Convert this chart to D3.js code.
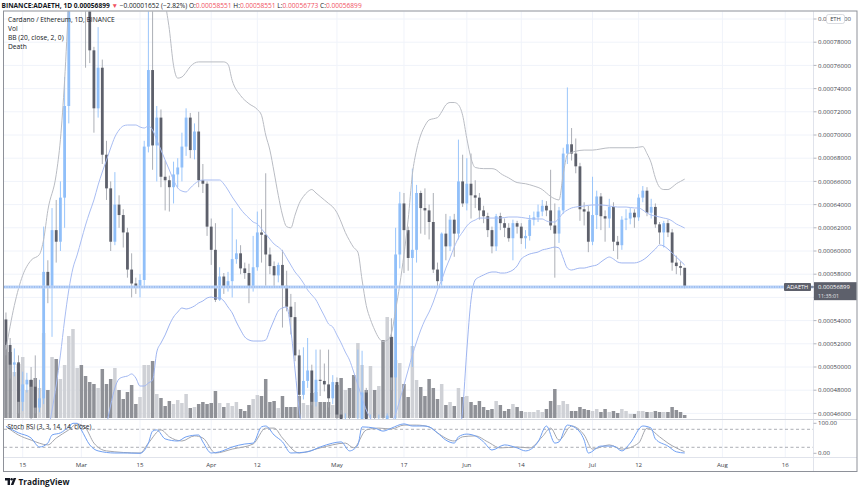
<!DOCTYPE html>
<html>
<head>
<meta charset="utf-8">
<script src="https://cdn.jsdelivr.net/npm/d3@7"></script>
<style>
  html, body { margin: 0; padding: 0; background: #fff; }
  svg { display: block; font-family: "Open Sans", sans-serif; }
</style>
</head>
<body>
<svg id="canvas" width="860" height="492"></svg>
<script>
// prices are in units of 0.00001 ETH, one candle per day from 2021-02-11
const firstDay = Date.UTC(2021, 1, 11);

const opens = [
  54.1, 51.9, 50.2, 50.4, 47.0, 48.5, 48.9, 48.3, 46.5, 47.3,
  58.2, 56.9, 61.8, 60.8, 64.6, 72.5, 86.0, 92.0, 93.0, 88.0,
  82.0, 77.3, 72.3, 75.8, 68.3, 65.4, 60.8, 64.0, 63.1, 61.6,
  58.4, 57.2, 56.9, 57.5, 69.0, 75.6, 69.1, 71.5, 66.4, 66.1,
  65.5, 66.6, 67.2, 69.0, 71.5, 68.7, 70.3, 66.1, 65.8, 62.1,
  60.1, 55.8, 57.8, 56.9, 57.4, 59.3, 59.8, 58.5, 58.1, 56.9,
  58.6, 61.6, 61.4, 59.7, 58.7, 57.9, 58.8, 57.0, 55.2, 54.3,
  51.0, 47.6, 48.8, 49.7, 47.0, 48.9, 48.8, 48.5, 47.3, 48.7,
  45.9, 44.8, 45.5, 44.6, 43.8, 45.2, 47.8, 44.9, 45.4, 44.6,
  45.3, 44.9, 52.6, 49.1, 59.7, 64.1, 61.8, 59.4, 60.1, 65.0,
  63.7, 63.5, 62.5, 58.4, 57.4, 61.5, 60.4, 62.7, 61.5, 66.0,
  64.1, 65.8, 64.8, 64.6, 63.5, 63.0, 61.8, 60.4, 63.0, 62.4,
  62.0, 61.1, 62.4, 62.1, 61.1, 61.3, 62.7, 62.9, 63.4, 63.9,
  63.5, 62.2, 61.5, 63.5, 68.4, 69.2, 68.4, 67.3, 63.6, 63.4,
  60.8, 63.1, 64.7, 63.0, 62.8, 63.8, 60.8, 60.5, 62.7, 62.8,
  63.3, 62.9, 64.6, 65.2, 63.3, 63.8, 62.3, 61.6, 62.4, 61.6,
  59.0, 58.7, 58.551
];
const highs = [
  54.7, 52.5, 51.6, 51.0, 49.6, 49.5, 50.0, 51.0, 48.9, 62.1,
  59.2, 63.7, 64.4, 66.0, 75.0, 90.0, 95.0, 97.0, 95.0, 90.0,
  84.0, 77.6, 79.3, 76.5, 69.5, 66.0, 66.8, 64.8, 63.6, 62.0,
  59.8, 57.7, 58.0, 69.5, 82.0, 82.0, 72.5, 72.2, 67.8, 66.5,
  67.7, 68.0, 70.2, 72.3, 71.9, 71.0, 72.0, 67.5, 66.0, 62.8,
  62.4, 58.6, 58.1, 58.2, 63.7, 61.0, 60.5, 59.0, 58.9, 61.3,
  63.4, 63.6, 66.7, 60.3, 59.1, 59.0, 60.1, 58.3, 56.3, 55.6,
  51.5, 51.7, 52.5, 50.2, 51.5, 51.5, 50.3, 51.5, 49.3, 49.1,
  46.3, 46.0, 45.8, 45.3, 51.5, 51.4, 48.2, 45.9, 45.8, 45.9,
  45.7, 46.0, 54.2, 62.0, 65.1, 65.0, 62.1, 67.1, 65.7, 65.2,
  65.4, 64.0, 65.0, 59.0, 61.6, 63.2, 63.0, 63.2, 69.6, 68.3,
  68.0, 68.4, 66.1, 65.0, 63.9, 63.3, 62.1, 63.2, 63.3, 62.8,
  62.4, 62.7, 62.6, 62.4, 61.8, 63.1, 63.4, 64.0, 64.4, 64.3,
  67.0, 64.1, 63.8, 68.9, 74.1, 70.6, 69.7, 67.6, 64.2, 63.9,
  66.4, 65.2, 65.0, 63.5, 64.5, 64.2, 61.3, 63.0, 63.6, 63.7,
  63.6, 64.9, 65.6, 65.5, 64.5, 64.1, 62.5, 62.6, 62.7, 61.9,
  59.6, 59.1, 58.551
];
const lows = [
  51.0, 49.0, 49.2, 46.0, 46.2, 47.8, 45.5, 46.0, 46.1, 46.8,
  55.5, 52.6, 59.0, 60.0, 62.0, 71.0, 84.0, 89.0, 86.0, 75.8,
  76.2, 70.2, 71.5, 67.5, 64.4, 60.0, 60.5, 62.0, 60.3, 57.7,
  56.0, 56.3, 56.0, 57.0, 68.5, 67.0, 66.0, 65.5, 63.5, 63.4,
  64.1, 65.5, 66.0, 68.2, 68.0, 67.9, 65.5, 65.0, 61.3, 58.8,
  55.6, 55.7, 56.3, 56.5, 56.0, 58.9, 58.0, 57.6, 55.5, 56.5,
  58.3, 59.0, 57.0, 58.0, 56.9, 57.3, 53.4, 54.8, 52.8, 50.5,
  46.6, 47.2, 48.2, 46.7, 46.6, 47.5, 47.9, 46.5, 46.8, 45.3,
  44.0, 44.2, 43.9, 43.2, 43.5, 44.8, 44.2, 44.4, 44.0, 44.2,
  44.2, 44.5, 48.0, 44.5, 58.5, 58.1, 58.3, 50.0, 59.0, 61.5,
  61.4, 61.0, 58.1, 56.8, 57.0, 59.2, 60.0, 59.5, 61.0, 63.8,
  63.5, 62.8, 63.7, 62.7, 62.4, 61.2, 59.8, 60.0, 61.8, 61.2,
  60.8, 59.2, 61.5, 60.6, 60.2, 60.9, 62.2, 62.5, 63.0, 63.0,
  61.8, 57.7, 60.7, 63.2, 67.5, 67.8, 66.7, 62.6, 62.2, 59.9,
  60.5, 61.9, 61.8, 60.8, 62.0, 60.0, 59.3, 60.1, 61.8, 62.3,
  62.0, 62.6, 64.2, 63.0, 62.8, 62.0, 60.6, 60.3, 61.2, 58.3,
  58.0, 57.9, 56.773
];
const closes = [
  51.9, 50.2, 50.4, 47.0, 48.5, 48.9, 48.3, 46.5, 47.3, 58.2,
  56.9, 61.8, 60.8, 64.6, 72.5, 86.0, 92.0, 93.0, 88.0, 82.0,
  77.3, 72.3, 75.8, 68.3, 65.4, 60.8, 64.0, 63.1, 61.6, 58.4,
  57.2, 56.9, 57.5, 69.0, 75.6, 69.1, 71.5, 66.4, 66.1, 65.5,
  66.6, 67.2, 69.0, 71.5, 68.7, 70.3, 66.1, 65.8, 62.1, 60.1,
  55.8, 57.8, 56.9, 57.4, 59.3, 59.8, 58.5, 58.1, 56.9, 58.6,
  61.6, 61.4, 59.7, 58.7, 57.9, 58.8, 57.0, 55.2, 54.3, 51.0,
  47.6, 48.8, 49.7, 47.0, 48.9, 48.8, 48.5, 47.3, 48.7, 45.9,
  44.8, 45.5, 44.6, 43.8, 45.2, 47.8, 44.9, 45.4, 44.6, 45.3,
  44.9, 45.8, 49.1, 59.7, 64.1, 61.8, 59.4, 60.1, 65.0, 63.7,
  63.5, 62.5, 58.4, 57.4, 61.5, 60.4, 62.7, 61.5, 66.0, 64.1,
  65.8, 64.8, 64.6, 63.5, 63.0, 61.8, 60.4, 63.0, 62.4, 62.0,
  61.1, 62.4, 62.1, 61.1, 61.3, 62.7, 62.9, 63.4, 63.9, 63.5,
  62.2, 61.5, 63.5, 68.4, 69.2, 68.4, 67.3, 63.6, 63.4, 60.8,
  63.1, 64.7, 63.0, 62.8, 63.8, 60.8, 60.5, 62.7, 62.8, 63.3,
  62.9, 64.6, 65.2, 63.3, 63.8, 62.3, 61.6, 62.4, 61.6, 59.0,
  58.7, 58.551, 56.899
];
// volume, millions ADA
const volumes = [
  73, 66, 46, 54, 61, 28, 38, 40, 30, 85,
  28, 61, 59, 39, 53, 82, 89, 50, 53, 42,
  36, 34, 30, 49, 34, 39, 50, 28, 19, 26,
  33, 14, 21, 53, 53, 57, 24, 20, 12, 17,
  14, 18, 15, 24, 10, 11, 14, 16, 14, 15,
  27, 15, 11, 15, 12, 16, 9, 7, 13, 19,
  23, 22, 39, 16, 17, 10, 22, 11, 11, 11,
  22, 15, 13, 25, 26, 16, 16, 16, 13, 33,
  40, 28, 30, 43, 75, 53, 28, 52, 28, 32,
  78, 101, 81, 58, 55, 34, 21, 72, 38, 31,
  22, 39, 30, 19, 34, 13, 16, 12, 30, 21,
  22, 16, 13, 17, 11, 8, 9, 17, 13, 7,
  9, 14, 11, 7, 6, 6, 6, 8, 6, 9,
  17, 29, 13, 17, 14, 7, 7, 11, 9, 8,
  7, 9, 6, 9, 6, 7, 5, 9, 7, 4,
  4, 7, 7, 6, 6, 7, 6, 6, 6, 11,
  8, 6, 3
];

// Bollinger bands: [candle index, value]
const bbUpper = [
  [0, 51.5], [2, 55.3], [4, 57.9], [6, 59.2], [8, 59.7], [9, 61.0], [10, 63.5], [12, 66.6],
  [13, 69.6], [14, 74.7], [15, 81.6], [16, 88], [18, 96], [22, 100], [28, 100], [34, 97],
  [36, 90], [38, 81.6], [39, 79.1], [40, 76.0], [41, 74.9], [42, 75.0], [43, 75.4], [44, 75.9],
  [45, 76.2], [46, 76.3], [52, 76.3], [53, 76.1], [54, 74.7], [56, 73.4], [58, 72.7], [60, 72.2],
  [61, 71.7], [62, 70.0], [63, 68.7], [64, 66.8], [65, 64.8], [66, 63.1], [67, 62.1], [68, 62.0],
  [69, 63.1], [70, 64.1], [71, 64.7], [72, 65.1], [73, 65.3], [74, 65.0], [75, 64.7], [76, 64.4],
  [77, 64.1], [78, 63.8], [79, 63.3], [80, 62.5], [81, 61.6], [82, 60.9], [83, 60.3], [84, 59.9],
  [85, 57.5], [86, 55.3], [87, 54.1], [88, 53.2], [89, 52.5], [90, 52.2], [91, 52.3], [92, 52.9],
  [93, 54.9], [94, 57.1], [95, 59.7], [96, 62.7], [97, 66.6], [98, 68.7], [99, 70.0], [100, 70.8],
  [101, 71.3], [102, 71.4], [103, 71.5], [104, 72.0], [105, 72.6], [106, 72.8], [107, 72.8],
  [108, 72.6], [109, 71.7], [110, 69.7], [111, 68.0], [112, 67.2], [114, 67.1], [116, 67.1],
  [117, 67.0], [118, 66.7], [120, 66.3], [122, 65.9], [124, 65.8], [126, 65.6], [128, 65.3],
  [129, 65.0], [130, 64.7], [131, 64.5], [132, 64.4], [133, 66.6], [134, 68.3], [135, 68.5],
  [136, 68.6], [138, 68.7], [140, 68.7], [142, 68.8], [144, 68.9], [150, 68.9], [152, 69.0],
  [153, 68.4], [154, 67.6], [155, 66.3], [156, 65.5], [157, 65.3], [158, 65.3], [159, 65.5],
  [160, 65.8], [161, 66.0], [162, 66.2]
];
const bbBasis = [
  [0, 43.5], [5, 44.0], [9, 44.3], [10, 44.57], [11, 46.29], [12, 48.45], [13, 51.03], [14, 54.05],
  [15, 56.64], [16, 58.53], [17, 59.66], [18, 60.95], [19, 62.24], [20, 63.36], [21, 64.40],
  [22, 65.69], [23, 66.81], [24, 67.84], [25, 68.88], [26, 69.83], [27, 70.43], [28, 70.78],
  [29, 70.86], [31, 70.86], [32, 70.69], [33, 70.60], [34, 70.78], [35, 70.43], [36, 69.57],
  [37, 68.71], [38, 67.84], [39, 66.98], [40, 66.12], [41, 65.43], [42, 65.17], [43, 65.09],
  [44, 65.43], [45, 65.78], [46, 66.03], [47, 66.12], [51, 66.12], [52, 65.78], [53, 65.26],
  [54, 64.66], [55, 64.14], [56, 63.62], [57, 63.19], [58, 62.84], [59, 62.50], [60, 62.33],
  [61, 61.90], [62, 61.47], [63, 61.03], [64, 60.60], [65, 60.34], [66, 60.0], [67, 59.40],
  [68, 58.79], [69, 58.19], [70, 57.76], [71, 57.24], [72, 56.64], [73, 56.21], [74, 55.78],
  [75, 55.09], [76, 54.40], [77, 53.71], [78, 53.45], [79, 52.76], [80, 52.07], [81, 51.29],
  [82, 50.60], [83, 49.57], [84, 48.45], [85, 47.33], [86, 46.29], [87, 45.60], [88, 45.0],
  [89, 44.57], [90, 44.40], [91, 44.57], [92, 45.09], [93, 45.95], [94, 47.16], [95, 48.45],
  [96, 49.74], [97, 51.03], [98, 52.16], [99, 53.19], [100, 54.05], [101, 54.74], [102, 55.60],
  [103, 56.64], [104, 57.50], [105, 58.53], [106, 59.40], [107, 60.34], [108, 61.12], [109, 61.64],
  [110, 62.16], [111, 62.50], [112, 62.67], [113, 62.84], [118, 62.84], [120, 62.93], [122, 62.93],
  [124, 62.84], [126, 62.76], [128, 62.76], [129, 62.59], [130, 62.50], [131, 62.50], [132, 62.84],
  [133, 63.28], [134, 63.53], [135, 63.71], [136, 63.79], [138, 63.88], [140, 63.97], [142, 63.97],
  [144, 63.88], [146, 63.79], [148, 63.79], [150, 63.71], [151, 63.71], [152, 63.53], [153, 63.28],
  [154, 63.10], [155, 63.02], [156, 62.93], [157, 62.84], [158, 62.76], [159, 62.59], [160, 62.33],
  [161, 62.16], [162, 61.98]
];
const bbLower = [
  [0, 36], [10, 33], [15, 30], [20, 35], [22, 40], [23, 43.5], [24, 45.0], [25, 46.72], [26, 48.19],
  [27, 48.97], [28, 49.14], [29, 49.22], [30, 49.40], [31, 49.05], [32, 48.36], [33, 48.36],
  [34, 48.62], [35, 48.88], [36, 51.29], [37, 52.07], [38, 52.76], [39, 53.62], [40, 54.31],
  [41, 54.74], [42, 55.09], [43, 55.0], [44, 55.09], [45, 55.26], [46, 55.52], [47, 55.69],
  [48, 55.95], [49, 56.03], [50, 55.95], [51, 55.95], [52, 55.69], [53, 55.17], [54, 54.66],
  [55, 53.88], [56, 53.19], [57, 52.59], [58, 52.33], [59, 52.24], [61, 52.24], [62, 52.33],
  [63, 53.19], [64, 54.05], [65, 54.83], [66, 55.09], [67, 55.17], [68, 53.19], [69, 49.74],
  [70, 46.29], [71, 43.71], [75, 38], [85, 34], [95, 33], [103, 36], [106, 40], [107, 42.5],
  [108, 43.71], [109, 46.29], [110, 51.47], [111, 55.78], [112, 57.50], [113, 57.76], [114, 57.93],
  [115, 58.10], [116, 58.19], [117, 58.19], [118, 58.10], [119, 58.10], [120, 58.19], [121, 58.36],
  [122, 58.71], [123, 59.31], [124, 59.57], [125, 59.74], [126, 59.83], [127, 59.91], [128, 60.09],
  [129, 60.17], [130, 60.26], [131, 60.34], [132, 60.26], [133, 59.40], [134, 58.53], [135, 58.36],
  [136, 58.45], [137, 58.53], [138, 58.53], [139, 58.62], [140, 58.71], [141, 58.79], [142, 59.05],
  [143, 59.31], [144, 59.48], [145, 59.31], [146, 59.05], [147, 58.97], [150, 58.97], [151, 59.05],
  [152, 59.22], [153, 59.48], [154, 59.83], [155, 60.17], [156, 60.52], [157, 60.43], [158, 60.17],
  [159, 59.83], [160, 59.48], [161, 59.14], [162, 58.79]
];

// Stoch RSI (3, 3, 14, 14): [candle index, value]
const stochK = [
  [0, 90], [3, 68], [6, 51], [8, 21], [10, 34], [11, 61], [13, 68], [15, 88], [16, 100], [17, 100],
  [18, 78], [20, 28], [22, 8], [26, 1], [29, 1], [32, 0], [34, 34], [35, 74], [36, 78], [38, 48],
  [41, 41], [43, 55], [46, 61], [47, 38], [49, 1], [51, 5], [54, 21], [57, 31], [59, 34], [61, 88],
  [62, 91], [64, 61], [66, 38], [68, 1], [72, 5], [75, 21], [78, 34], [80, 38], [82, 8], [84, 28],
  [85, 88], [88, 84], [90, 74], [92, 84], [95, 98], [97, 91], [100, 91], [101, 88], [103, 68],
  [105, 44], [107, 34], [108, 55], [110, 64], [112, 58], [114, 38], [116, 11], [119, 28], [122, 18],
  [124, 8], [127, 38], [129, 91], [131, 34], [132, 38], [134, 94], [136, 84], [138, 44], [139, 1],
  [142, 24], [145, 24], [147, 8], [149, 34], [152, 91], [154, 84], [155, 48], [158, 24], [160, 5],
  [162, 1]
];
const stochD = [
  [0, 90], [3, 61], [6, 44], [10, 28], [12, 51], [15, 78], [17, 98], [19, 84], [21, 34], [24, 8],
  [32, 1], [34, 34], [37, 78], [39, 55], [42, 41], [45, 58], [47, 51], [50, 1], [54, 14], [59, 31],
  [62, 84], [64, 84], [66, 51], [70, 1], [75, 18], [81, 34], [83, 18], [86, 78], [89, 84], [92, 81],
  [95, 94], [98, 94], [101, 88], [103, 68], [107, 41], [109, 55], [112, 58], [115, 38], [118, 18],
  [122, 21], [125, 18], [128, 55], [130, 84], [132, 44], [135, 91], [138, 61], [140, 14], [144, 28],
  [147, 14], [151, 34], [153, 84], [156, 55], [158, 34], [162, 5]
];

const priceTicks = [46, 48, 50, 52, 54, 56, 58, 60, 62, 64, 66, 68, 70, 72, 74, 76, 78, 80];
const stochLevels = [80, 20];
const stochLabels = [100, 0];
const timeTicks = [
  ["2021-02-15", "15"], ["2021-03-01", "Mar"], ["2021-03-15", "15"], ["2021-04-01", "Apr"],
  ["2021-04-12", "12"], ["2021-05-01", "May"], ["2021-05-17", "17"], ["2021-06-01", "Jun"],
  ["2021-06-14", "14"], ["2021-07-01", "Jul"], ["2021-07-12", "12"], ["2021-08-01", "Aug"],
  ["2021-08-16", "16"]
];

const svg = d3.select("#canvas");

// layout
const left = 4, paneRight = 813, right = 857;
const mainTop = 11.5, mainBottom = 419.5, stochBottom = 457.5, axisBottom = 471.5;

const dayOf = i => d3.utcDay.offset(new Date(firstDay), i);
const candles = opens.map((o, i) => ({
  date: dayOf(i), o: o, h: highs[i], l: lows[i], c: closes[i], v: volumes[i], up: closes[i] >= o
}));

const x = d3.scaleUtc()
  .domain([dayOf(0), dayOf(162)])
  .range([5.94, 684.7]);
const y = d3.scaleLinear().domain([46, 80]).range([413.4, 19]);
const yVol = d3.scaleLinear().domain([0, 100]).range([418, 318]);
const yStoch = d3.scaleLinear().domain([0, 100]).range([453.3, 423.3]);

const fmt = v => (v * 1e-5).toFixed(8);

const upColor = "#90bff9", downColor = "#5d606b", downWick = "#a3a6ae";

const defs = svg.append("defs");
defs.append("clipPath").attr("id", "mainClip")
  .append("rect").attr("x", left).attr("y", mainTop).attr("width", paneRight - left).attr("height", mainBottom - mainTop);
defs.append("clipPath").attr("id", "stochClip")
  .append("rect").attr("x", left).attr("y", mainBottom).attr("width", paneRight - left).attr("height", stochBottom - mainBottom);

// grid
const grid = svg.append("g");
grid.selectAll(".vg").data(timeTicks).enter().append("line")
  .attr("x1", d => x(new Date(d[0]))).attr("x2", d => x(new Date(d[0])))
  .attr("y1", mainTop).attr("y2", stochBottom)
  .attr("stroke", "#f0f3fa").attr("stroke-width", 1);
grid.selectAll(".hg").data(priceTicks).enter().append("line")
  .attr("x1", left).attr("x2", paneRight)
  .attr("y1", d => y(d)).attr("y2", d => y(d))
  .attr("stroke", "#f0f3fa").attr("stroke-width", 1);

// main pane
const main = svg.append("g").attr("clip-path", "url(#mainClip)");

main.selectAll(".vol").data(candles).enter().append("rect")
  .attr("x", d => x(d.date) - 1.75).attr("width", 3.5)
  .attr("y", d => yVol(d.v)).attr("height", d => yVol(0) - yVol(d.v))
  .attr("fill", d => d.up ? "#cfd1d6" : "#8f9197");

main.selectAll(".wick").data(candles).enter().append("line")
  .attr("x1", d => x(d.date)).attr("x2", d => x(d.date))
  .attr("y1", d => y(d.h)).attr("y2", d => y(d.l))
  .attr("stroke", d => d.up ? upColor : downWick).attr("stroke-width", 0.9);

main.selectAll(".body").data(candles).enter().append("rect")
  .attr("x", d => x(d.date) - 1.4).attr("width", 2.8)
  .attr("y", d => y(Math.max(d.o, d.c)))
  .attr("height", d => Math.max(1, Math.abs(y(d.o) - y(d.c))))
  .attr("fill", d => d.up ? upColor : downColor);

const bandLine = d3.line()
  .x(d => x(dayOf(d[0])))
  .y(d => y(d[1]))
  .curve(d3.curveMonotoneX);
main.append("path").attr("d", bandLine(bbUpper)).attr("fill", "none").attr("stroke", "#b9bcc3").attr("stroke-width", 1);
main.append("path").attr("d", bandLine(bbBasis)).attr("fill", "none").attr("stroke", "#a9bdf2").attr("stroke-width", 1);
main.append("path").attr("d", bandLine(bbLower)).attr("fill", "none").attr("stroke", "#9fb5f0").attr("stroke-width", 1);

// last price line
const lastY = y(closes[closes.length - 1]);
svg.append("line").attr("x1", left).attr("x2", paneRight).attr("y1", lastY).attr("y2", lastY)
  .attr("stroke", "#bcd4f7").attr("stroke-width", 3);
svg.append("line").attr("x1", left).attr("x2", paneRight).attr("y1", lastY).attr("y2", lastY)
  .attr("stroke", "#6d9cea").attr("stroke-width", 0.8).attr("stroke-dasharray", "1,1.5");

// stoch pane
const stoch = svg.append("g").attr("clip-path", "url(#stochClip)");
stoch.selectAll(".lvl").data(stochLevels).enter().append("line")
  .attr("x1", left).attr("x2", paneRight)
  .attr("y1", d => yStoch(d)).attr("y2", d => yStoch(d))
  .attr("stroke", "#8a8d95").attr("stroke-width", 0.7).attr("stroke-dasharray", "3,2.5");
const stochLine = d3.line()
  .x(d => x(dayOf(d[0])))
  .y(d => yStoch(d[1]))
  .curve(d3.curveMonotoneX);
stoch.append("path").attr("d", stochLine(stochD)).attr("fill", "none").attr("stroke", "#a4a6ad").attr("stroke-width", 1);
stoch.append("path").attr("d", stochLine(stochK)).attr("fill", "none").attr("stroke", "#6f9ff2").attr("stroke-width", 1);

// frame and separators
svg.append("line").attr("x1", paneRight + 0.5).attr("x2", paneRight + 0.5).attr("y1", mainTop).attr("y2", axisBottom)
  .attr("stroke", "#e0e3eb");
svg.append("line").attr("x1", left).attr("x2", right).attr("y1", mainBottom).attr("y2", mainBottom)
  .attr("stroke", "#d6d9e0");
svg.append("line").attr("x1", left).attr("x2", right).attr("y1", stochBottom).attr("y2", stochBottom)
  .attr("stroke", "#e0e3eb");
svg.append("rect").attr("x", left - 0.5).attr("y", mainTop - 0.5)
  .attr("width", right - left + 0.5).attr("height", axisBottom - mainTop + 0.5)
  .attr("fill", "none").attr("stroke", "#8e9199").attr("stroke-width", 1);

// price axis (the label hidden by the last-price tag is skipped)
const axisFont = 6.1;
const pAxis = svg.append("g");
pAxis.selectAll(".pt").data(priceTicks).enter().append("line")
  .attr("x1", paneRight + 0.5).attr("x2", paneRight + 3.5)
  .attr("y1", d => y(d)).attr("y2", d => y(d)).attr("stroke", "#b2b5be");
pAxis.selectAll(".pl").data(priceTicks.filter(d => y(d) < lastY - 8 || y(d) > lastY + 16)).enter().append("text")
  .attr("x", 818).attr("y", d => y(d) + 2.1)
  .attr("font-size", axisFont).attr("fill", "#3b3e48")
  .text(d => fmt(d));
pAxis.selectAll(".sl").data(stochLabels).enter().append("text")
  .attr("x", 818).attr("y", d => yStoch(d) + 2.1)
  .attr("font-size", axisFont).attr("fill", "#3b3e48")
  .text(d => d.toFixed(2));
pAxis.selectAll(".st").data(stochLabels).enter().append("line")
  .attr("x1", paneRight + 0.5).attr("x2", paneRight + 3.5)
  .attr("y1", d => yStoch(d)).attr("y2", d => yStoch(d)).attr("stroke", "#b2b5be");

// currency badge
svg.append("rect").attr("x", 826.5).attr("y", 14.5).attr("width", 18).attr("height", 9).attr("rx", 2)
  .attr("fill", "#fff").attr("stroke", "#c9ccd3").attr("stroke-width", 0.7);
svg.append("text").attr("x", 835.5).attr("y", 21.2).attr("text-anchor", "middle")
  .attr("font-size", 5.8).attr("fill", "#3b3e48").text("ETH");

// last price tags
svg.append("rect").attr("x", 784).attr("y", lastY - 4).attr("width", 27).attr("height", 8).attr("rx", 1)
  .attr("fill", "#5d606b");
svg.append("text").attr("x", 797.5).attr("y", lastY + 2).attr("text-anchor", "middle")
  .attr("font-size", 5.6).attr("fill", "#fff").text("ADAETH");
svg.append("line").attr("x1", 811).attr("x2", 815).attr("y1", lastY).attr("y2", lastY).attr("stroke", "#5d606b");
svg.append("rect").attr("x", 814).attr("y", lastY - 4.8).attr("width", 42.5).attr("height", 18)
  .attr("fill", "#5d606b");
svg.append("text").attr("x", 818).attr("y", lastY + 1.8)
  .attr("font-size", 5.9).attr("fill", "#fff").text(fmt(closes[closes.length - 1]));
svg.append("text").attr("x", 818).attr("y", lastY + 10.8)
  .attr("font-size", 5.3).attr("fill", "#e6e7ea").text("11:35:01");

// time axis
svg.append("g").selectAll("text").data(timeTicks).enter().append("text")
  .attr("x", d => x(new Date(d[0]))).attr("y", 467)
  .attr("text-anchor", "middle").attr("font-size", axisFont).attr("fill", "#3b3e48")
  .text(d => d[1]);

// fit helper: scales font so text spans the measured width
function fitWidth(sel, w) {
  const len = sel.node().getComputedTextLength();
  const fs = parseFloat(sel.attr("font-size"));
  sel.attr("font-size", (fs * w / len).toFixed(2));
  return fs * w / len;
}

// header line
const title = svg.append("text").attr("x", 1.5).attr("y", 7.6).attr("font-size", 6.5).attr("fill", "#131722");
const red = "#f0525f";
const parts = [
  ["BINANCE:ADAETH, 1D ", "#131722", 700], ["0.00056899 ", "#131722", 700], ["\u25BC ", red, 400],
  ["\u22120.00001652 (\u22122.82%) ", "#131722", 400], ["O:", "#131722", 400], ["0.00058551 ", red, 400],
  ["H:", "#131722", 400], ["0.00058551 ", red, 400], ["L:", "#131722", 400], ["0.00056773 ", red, 400],
  ["C:", "#131722", 400], ["0.00056899", red, 400]
];
title.selectAll("tspan").data(parts).enter().append("tspan")
  .attr("fill", d => d[1]).attr("font-weight", d => d[2]).text(d => d[0])
  .style("white-space", "pre");
title.attr("xml:space", "preserve");
fitWidth(title, 360);

// legend
const legendRows = ["Cardano / Ethereum, 1D, BINANCE", "Vol", "BB (20, close, 2, 0)", "Death"];
const leg = svg.append("g");
const first = leg.append("text").attr("x", 8).attr("y", 22.3).attr("font-size", 7).attr("fill", "#131722").text(legendRows[0]);
const legFs = fitWidth(first, 107);
leg.selectAll(".lr").data(legendRows.slice(1)).enter().append("text")
  .attr("x", 8).attr("y", (d, i) => 31.3 + i * 9)
  .attr("font-size", legFs.toFixed(2)).attr("fill", "#131722").text(d => d);

const stochTitle = svg.append("text").attr("x", 7.5).attr("y", 429.4).attr("font-size", 6.6)
  .attr("fill", "#131722").text("Stoch RSI (3, 3, 14, 14, close)");
fitWidth(stochTitle, 84);

// TradingView logo
const logo = svg.append("g").attr("transform", "translate(5,478)");
logo.append("path").attr("d", "M0,0 H5 V7 H2.6 V2.4 H0 Z").attr("fill", "#131722");
logo.append("circle").attr("cx", 6.6).attr("cy", 1.3).attr("r", 1.25).attr("fill", "#131722");
logo.append("path").attr("d", "M8.6,0 H11.2 L8.4,7 H5.8 Z").attr("fill", "#131722");
const brand = logo.append("text").attr("x", 13.5).attr("y", 6.6).attr("font-size", 8)
  .attr("font-weight", 700).attr("fill", "#131722").text("TradingView");
fitWidth(brand, 51);
</script>
</body>
</html>
